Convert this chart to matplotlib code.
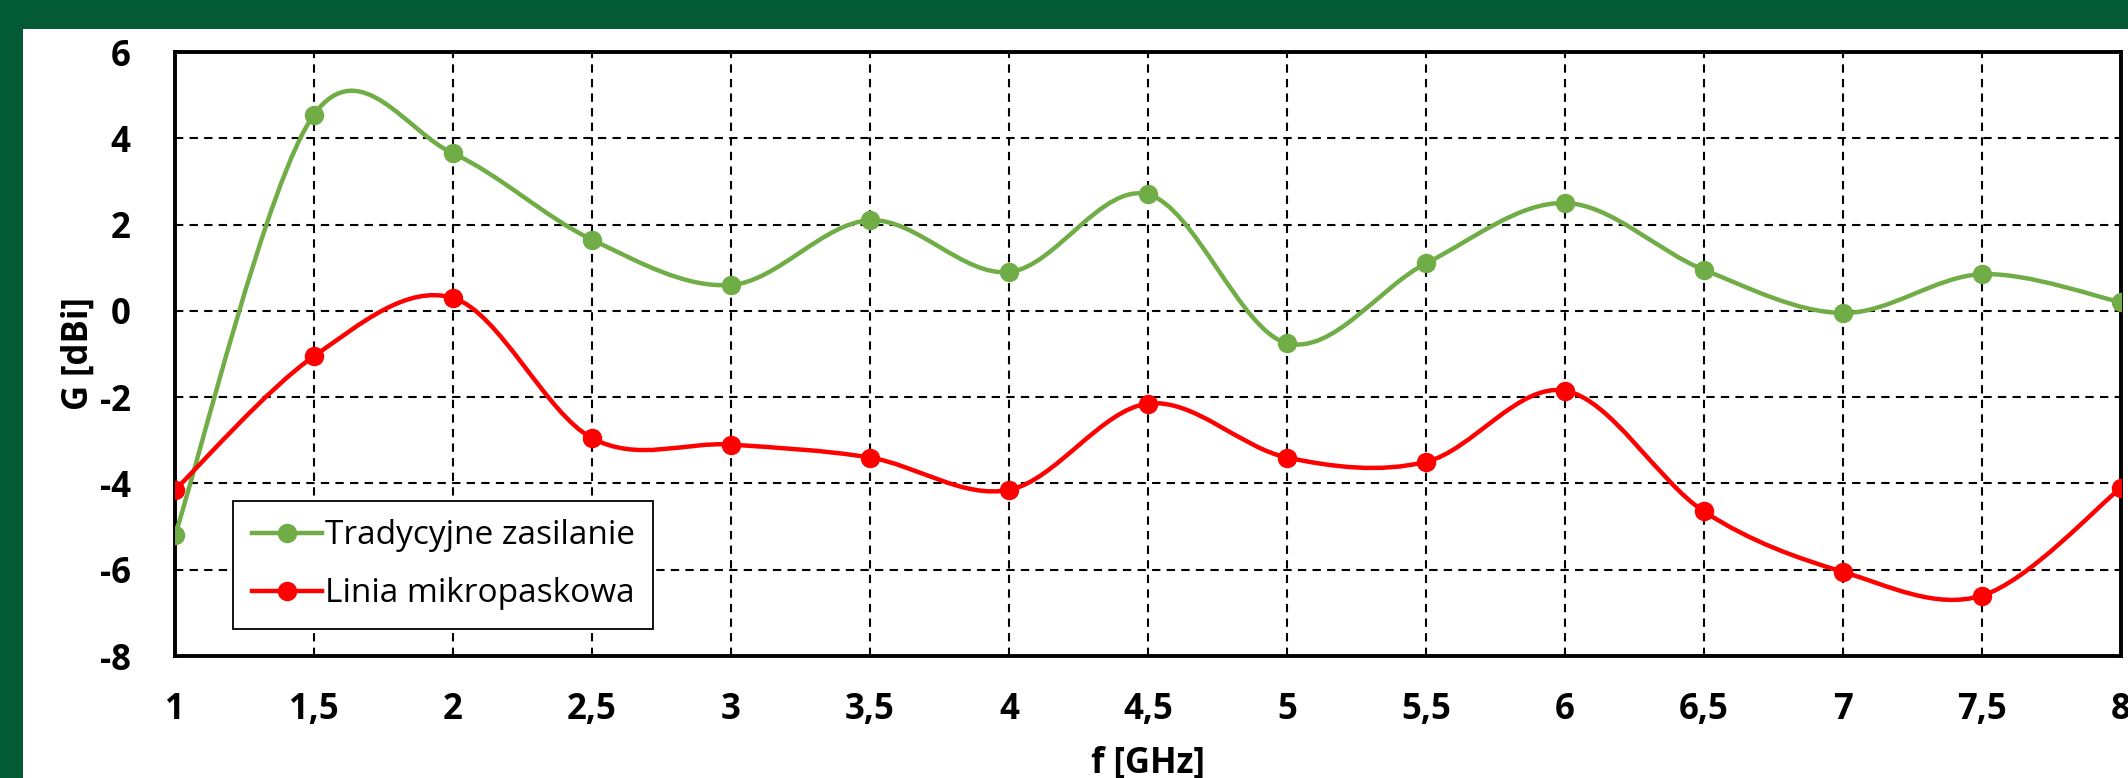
import matplotlib
matplotlib.use('Agg')
import matplotlib.pyplot as plt
import numpy as np
from matplotlib.path import Path
from matplotlib.patches import PathPatch, Rectangle
from matplotlib.lines import Line2D

# data
freq = [1, 1.5, 2, 2.5, 3, 3.5, 4, 4.5, 5, 5.5, 6, 6.5, 7, 7.5, 8]
gain_trad = [-5.2, 4.55, 3.65, 1.65, 0.6, 2.1, 0.9, 2.7, -0.75, 1.1, 2.5, 0.95, -0.05, 0.85, 0.2]
gain_micro = [-4.15, -1.05, 0.3, -2.95, -3.1, -3.4, -4.15, -2.15, -3.4, -3.5, -1.85, -4.65, -6.05, -6.6, -4.1]
series_names = ['Tradycyjne zasilanie', 'Linia mikropaskowa']
series_colors = ['#70AD47', '#FF0000']
x_ticks = [1, 1.5, 2, 2.5, 3, 3.5, 4, 4.5, 5, 5.5, 6, 6.5, 7, 7.5, 8]
x_ticklabels = ['1', '1,5', '2', '2,5', '3', '3,5', '4', '4,5', '5', '5,5', '6', '6,5', '7', '7,5', '8']
y_ticks = [-8, -6, -4, -2, 0, 2, 4, 6]

plt.rcParams['font.family'] = ['Open Sans', 'DejaVu Sans']
plt.rcParams['axes.unicode_minus'] = False


def smooth_path(xs, ys):
    # Excel-like smoothed line: cubic bezier through points (catmull-rom controls)
    pts = np.column_stack([xs, ys]).astype(float)
    n = len(pts)
    verts = [pts[0]]
    codes = [Path.MOVETO]
    for i in range(n - 1):
        p0 = pts[i - 1] if i > 0 else pts[i]
        p1 = pts[i]
        p2 = pts[i + 1]
        p3 = pts[i + 2] if i + 2 < n else pts[i + 1]
        c1 = p1 + (p2 - p0) / 6.0
        c2 = p2 - (p3 - p1) / 6.0
        verts += [c1, c2, p2]
        codes += [Path.CURVE4] * 3
    return Path(verts, codes)


fig = plt.figure(figsize=(21.28, 7.78), dpi=100)
fig.patch.set_facecolor('white')

# dark green frame (top and left)
band = '#025B35'
fig.patches.append(Rectangle((0, 1 - 29 / 778), 1, 29 / 778, transform=fig.transFigure,
                             facecolor=band, edgecolor='none', zorder=0))
fig.patches.append(Rectangle((0, 0), 23 / 2128, 1, transform=fig.transFigure,
                             facecolor=band, edgecolor='none', zorder=0))

ax = fig.add_axes([175 / 2128, 122 / 778, 1946 / 2128, 604 / 778])

handles = []
for ys, name, col in zip([gain_trad, gain_micro], series_names, series_colors):
    ax.add_patch(PathPatch(smooth_path(freq, ys), facecolor='none', edgecolor=col,
                           lw=3.2, zorder=3, capstyle='round'))
    ax.plot(freq, ys, linestyle='none', marker='o', markersize=13, color=col, zorder=4)
    handles.append(Line2D([], [], color=col, lw=3.2, marker='o', markersize=13))

ax.set_xlim(1, 8)
ax.set_ylim(-8, 6)
ax.set_xticks(x_ticks)
ax.set_xticklabels(x_ticklabels)
ax.set_yticks(y_ticks)
ax.tick_params(axis='both', length=0, labelsize=25)
ax.tick_params(axis='x', pad=26)
ax.tick_params(axis='y', pad=32)
for lab in ax.get_xticklabels() + ax.get_yticklabels():
    lab.set_fontweight('bold')

ax.grid(True, color='black', linestyle=(0, (4, 3)), linewidth=1.5)
ax.set_axisbelow(True)
for sp in ax.spines.values():
    sp.set_linewidth(2.8)
    sp.set_color('black')

ax.set_xlabel('f [GHz]', fontsize=25, fontweight='bold')
ax.set_ylabel('G [dBi]', fontsize=25, fontweight='bold')
ax.xaxis.set_label_coords(0.5, -0.148)
ax.yaxis.set_label_coords(-0.040, 0.5)

leg = ax.legend(handles, series_names, loc='lower left', bbox_to_anchor=(0.03, 0.045),
                fontsize=24, frameon=True, fancybox=False, framealpha=1,
                edgecolor='black', handlelength=2.1, handletextpad=0.1,
                borderpad=0.55, labelspacing=0.75, borderaxespad=0)
leg.get_frame().set_linewidth(1.3)
leg.set_zorder(5)

plt.savefig('out.png', dpi=100, facecolor=fig.get_facecolor())
